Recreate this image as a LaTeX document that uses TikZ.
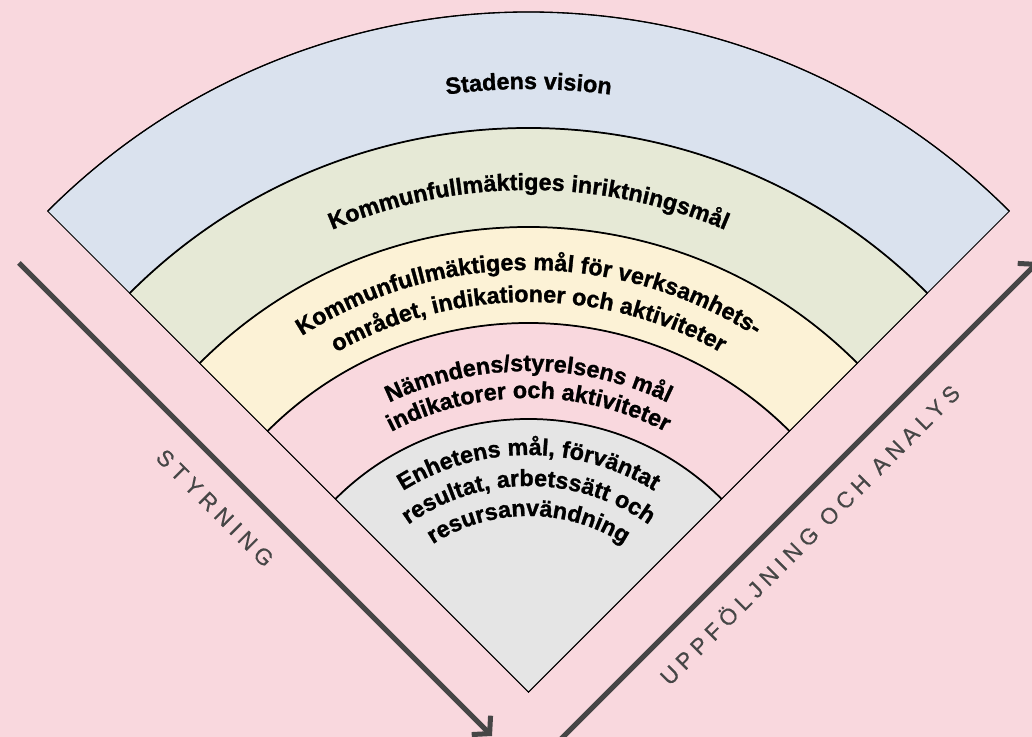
\documentclass[tikz,border=0pt]{standalone}
\usepackage{fontspec}
\usepackage{tikz}
\usetikzlibrary{arrows.meta,decorations.text}
\setmainfont{Liberation Sans}[BoldFeatures={FakeBold=1.2}]
\newfontfamily\trackfont[LetterSpace=24,FakeBold=0.5]{Liberation Sans}
\definecolor{fan_bg}{RGB}{249, 216, 222}
\definecolor{fan_blue}{RGB}{218, 226, 238}
\definecolor{fan_green}{RGB}{230, 233, 214}
\definecolor{fan_yellow}{RGB}{252, 242, 214}
\definecolor{fan_grey}{RGB}{229, 229, 229}
\definecolor{fan_dark}{RGB}{70, 70, 70}
\newcommand{\bandfont}{\fontsize{17.5}{20}\selectfont\bfseries}
\tikzstyle{band}=[draw=black,line width=0.6pt]
\tikzstyle{rim}=[draw=black,line width=1.3pt]
\tikzstyle{bandtext}=[decorate,decoration={text along path,text align=center}]
\tikzstyle{track}=[text=fan_dark,font=\trackfont\fontsize{17}{19}\selectfont,inner sep=0pt]
\tikzstyle{flow}=[draw=fan_dark,line width=3.75pt,-{Straight Barb[length=9pt,width=20pt]}]

\begin{document}
\begin{tikzpicture}[x=0.75pt,y=0.75pt]
        \useasboundingbox (0,0) rectangle (1032,737);
        \fill [fan_bg] (0,0) rectangle (1032,737);
        \clip (0,0) rectangle (1032,737);
        \coordinate (0) at (528.5,45);
        % the fan, outer band first
        \filldraw [style=band,fill=fan_blue] (0) -- ++(135:680) arc[start angle=135,end angle=45,radius=680] -- cycle;
        \filldraw [style=band,fill=fan_green] (0) -- ++(135:564) arc[start angle=135,end angle=45,radius=564] -- cycle;
        \filldraw [style=band,fill=fan_yellow] (0) -- ++(135:465) arc[start angle=135,end angle=45,radius=465] -- cycle;
        \filldraw [style=band,fill=fan_bg] (0) -- ++(135:369) arc[start angle=135,end angle=45,radius=369] -- cycle;
        \filldraw [style=band,fill=fan_grey] (0) -- ++(135:273) arc[start angle=135,end angle=45,radius=273] -- cycle;
        \draw [style=rim,line width=1pt] (0) ++(135:680) arc[start angle=135,end angle=45,radius=680];
        \draw [style=rim] (0) ++(135:564) arc[start angle=135,end angle=45,radius=564];
        \draw [style=rim] (0) ++(135:465) arc[start angle=135,end angle=45,radius=465];
        \draw [style=rim] (0) ++(135:369) arc[start angle=135,end angle=45,radius=369];
        \draw [style=rim] (0) ++(135:273) arc[start angle=135,end angle=45,radius=273];
        % texts along the bands
        \path [style=bandtext,decoration={text={|\bandfont|Stadens vision}}] (0) ++(135:603) arc[start angle=135,end angle=45,radius=603];
        \path [style=bandtext,decoration={text={|\bandfont|Kommunfullmäktiges inriktningsmål}}] (0) ++(135:502) arc[start angle=135,end angle=45,radius=502];
        \path [style=bandtext,decoration={text={|\bandfont|Kommunfullmäktiges mål för verksamhets-}}] (0) ++(135:422) arc[start angle=135,end angle=45,radius=422];
        \path [style=bandtext,decoration={text={|\bandfont|området, indikationer och aktiviteter}}] (0) ++(135:390) arc[start angle=135,end angle=45,radius=390];
        \path [style=bandtext,decoration={text={|\bandfont|Nämndens/styrelsens mål}}] (0) ++(135:321) arc[start angle=135,end angle=45,radius=321];
        \path [style=bandtext,decoration={text={|\bandfont|indikatorer och aktiviteter}}] (0) ++(135:294) arc[start angle=135,end angle=45,radius=294];
        \path [style=bandtext,decoration={text={|\bandfont|Enhetens mål, förväntat}}] (0) ++(135:237) arc[start angle=135,end angle=45,radius=237];
        \path [style=bandtext,decoration={text={|\bandfont|resultat, arbetssätt och}}] (0) ++(135:206) arc[start angle=135,end angle=45,radius=206];
        \path [style=bandtext,decoration={text={|\bandfont|resursanvändning}}] (0) ++(135:176) arc[start angle=135,end angle=45,radius=176];
        % the two arrows
        \coordinate (1) at (19,474);
        \coordinate (2) at (492,1);
        \coordinate (3) at (561,-2);
        \coordinate (4) at (1038,475);
        \draw [style=flow] (1) -- (2);
        \draw [style=flow] (3) -- (4);
        \node [style=track,rotate=-45] (5) at (215,229) {STYRNING};
        \node [style=track,rotate=45] (6) at (809,203) {UPPFÖLJNING OCH ANALYS};
\end{tikzpicture}
\end{document}
